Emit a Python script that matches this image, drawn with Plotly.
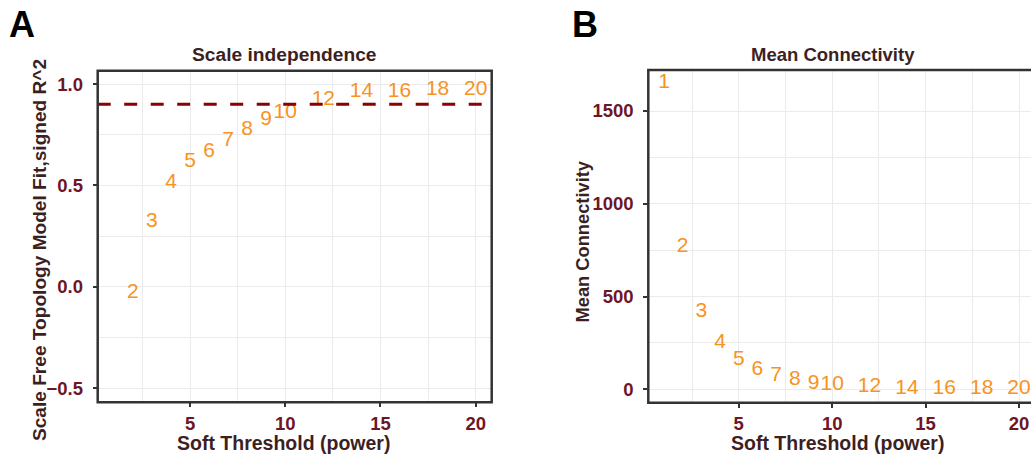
import plotly.graph_objects as go

# ---- data ----
powers_a = [2, 3, 4, 5, 6, 7, 8, 9, 10, 12, 14, 16, 18, 20]
r2_a = [-0.03, 0.32, 0.515, 0.615, 0.665, 0.72, 0.775, 0.825, 0.86, 0.925, 0.96, 0.96, 0.97, 0.97]
threshold_a = 0.9

powers_b = [1, 2, 3, 4, 5, 6, 7, 8, 9, 10, 12, 14, 16, 18, 20]
mean_k_b = [1650, 768, 418, 251, 158, 104, 72, 50, 30, 25, 14, 5, 2, 2, 1]

x_ticks = [5, 10, 15, 20]
y_ticks_a = [-0.5, 0.0, 0.5, 1.0]
y_ticklabels_a = ["\u22120.5", "0.0", "0.5", "1.0"]
y_ticks_b = [0, 500, 1000, 1500]

# ---- style ----
W, H = 1031, 457
FONT = "Arial, Liberation Sans, Helvetica, sans-serif"
ORANGE = "#F7931E"
TICKC = "#6E1526"
TITLEC = "#3D1F1F"
FRAME = "#333333"
GRID = "#EBEBEB"

def px(x):
    return x / W

def py(y):
    return 1 - y / H

fig = go.Figure()

fig.add_trace(go.Scatter(
    x=powers_a, y=r2_a, mode="text", text=[str(p) for p in powers_a],
    textfont=dict(family=FONT, size=21, color=ORANGE),
    textposition="middle center", xaxis="x", yaxis="y", cliponaxis=False,
    hoverinfo="skip", showlegend=False))

fig.add_trace(go.Scatter(
    x=powers_b, y=mean_k_b, mode="text", text=[str(p) for p in powers_b],
    textfont=dict(family=FONT, size=21, color=ORANGE),
    textposition="middle center", xaxis="x2", yaxis="y2", cliponaxis=False,
    hoverinfo="skip", showlegend=False))

# panel geometry (pixels)
A = dict(l=97.7, r=491.7, t=70.7, b=402.3)
B = dict(l=648.3, r=1031, t=70.0, b=402.7)

tickfont = dict(family=FONT, size=18.5, color=TICKC, weight="bold")
common_x = dict(
    tickvals=x_ticks, ticks="outside", ticklen=4, tickwidth=1.5, tickcolor=FRAME,
    tickfont=tickfont, showgrid=True, gridcolor=GRID, gridwidth=1.2,
    minor=dict(showgrid=True, gridcolor=GRID, gridwidth=1, dtick=2.5, tick0=2.5),
    zeroline=False, showline=False, ticklabelstandoff=0,
)
common_y = dict(
    ticks="outside", ticklen=4, tickwidth=1.5, tickcolor=FRAME,
    tickfont=tickfont, showgrid=True, gridcolor=GRID, gridwidth=1.2,
    zeroline=False, showline=False, ticklabelstandoff=6,
)

fig.update_layout(
    width=W, height=H, margin=dict(l=0, r=0, t=0, b=0),
    paper_bgcolor="white", plot_bgcolor="white", showlegend=False,
    xaxis=dict(domain=[px(A["l"]), px(A["r"])], range=[0.15, 20.84], anchor="y", **common_x),
    yaxis=dict(domain=[py(A["b"]), py(A["t"])], range=[-0.569, 1.066], anchor="x",
               tickvals=y_ticks_a, ticktext=y_ticklabels_a,
               minor=dict(showgrid=True, gridcolor=GRID, gridwidth=1, dtick=0.5, tick0=0.25),
               **common_y),
    xaxis2=dict(domain=[px(B["l"]), 1.0], range=[0.16, 20.64], anchor="y2", **common_x),
    yaxis2=dict(domain=[py(B["b"]), py(B["t"])], range=[-72, 1721], anchor="x2",
                tickvals=y_ticks_b,
                minor=dict(showgrid=True, gridcolor=GRID, gridwidth=1, dtick=500, tick0=250),
                **common_y),
)

# threshold line in panel A
fig.add_shape(type="line", xref="x domain", yref="y", x0=0, x1=1,
              y0=threshold_a, y1=threshold_a,
              line=dict(color="#8B0000", width=3, dash="13px,13.5px"))

# frames
fig.add_shape(type="rect", xref="paper", yref="paper",
              x0=px(A["l"]), x1=px(A["r"]), y0=py(A["b"]), y1=py(A["t"]),
              line=dict(color=FRAME, width=2.5), fillcolor="rgba(0,0,0,0)")
fig.add_shape(type="rect", xref="paper", yref="paper",
              x0=px(B["l"]), x1=px(1035), y0=py(B["b"]), y1=py(B["t"]),
              line=dict(color=FRAME, width=2.5), fillcolor="rgba(0,0,0,0)")

def ann(text, x, y, size, color, bold=True, angle=0, xanchor="center"):
    fig.add_annotation(
        text=text, xref="paper", yref="paper", x=px(x), y=py(y),
        xanchor=xanchor, yanchor="middle", showarrow=False, textangle=angle,
        font=dict(family=FONT, size=size, color=color, weight="bold" if bold else "normal"))

# panel letters
ann("A", 7, 25, 36, "#000000", xanchor="left")
ann("B", 570, 25, 36, "#000000", xanchor="left")

# titles
ann("Scale independence", 284, 54, 19.2, TITLEC)
ann("Mean Connectivity", 832.5, 54, 18.5, TITLEC)

# axis titles
ann("Soft Threshold (power)", 283, 443, 19.5, TITLEC)
ann("Soft Threshold (power)", 837, 443, 19.5, TITLEC)
ann("Scale Free Topology Model Fit,signed R^2", 40, 250, 19.1, TITLEC, angle=-90)
ann("Mean Connectivity", 581.5, 242, 18.3, TITLEC, angle=-90)

fig.write_html("out.html", config={"displayModeBar": False},
               post_script="document.body.style.margin='0';document.body.style.overflow='hidden';")
